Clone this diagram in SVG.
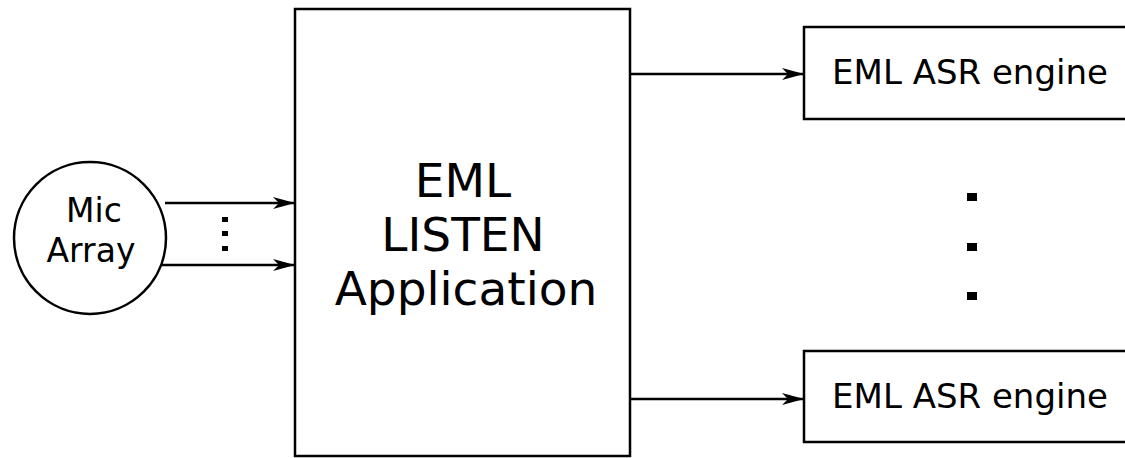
<svg xmlns="http://www.w3.org/2000/svg" width="1125" height="458" viewBox="0 0 1125 458">
<style>
.box{fill:#fff;stroke:#000;stroke-width:2.5}
.ln{fill:none;stroke:#000;stroke-width:2.5}
.t{font-family:"DejaVu Sans",sans-serif;fill:#000;text-anchor:middle}
</style>
<defs>
<marker id="ah" markerUnits="userSpaceOnUse" markerWidth="24" markerHeight="14" refX="22" refY="7" orient="auto">
<path d="M0,1 L22,7 L0,13 L6,7 Z" fill="#000"/>
</marker>
</defs>
<rect width="1125" height="458" fill="#fff"/>
<g id="mic">
<circle class="box" cx="90" cy="238" r="76"/>
<text class="t" x="94" y="222" font-size="33">Mic</text>
<text class="t" x="91" y="262" font-size="33">Array</text>
</g>
<g id="listen">
<rect class="box" x="295" y="9" width="335" height="447"/>
<text class="t" x="463" y="197" font-size="47">EML</text>
<text class="t" x="463" y="251" font-size="47">LISTEN</text>
<text class="t" x="466" y="305" font-size="47">Application</text>
</g>
<g id="asr1">
<rect class="box" x="804" y="27" width="330" height="92"/>
<text class="t" x="970" y="84" font-size="34">EML ASR engine</text>
</g>
<g id="asr2">
<rect class="box" x="804" y="351" width="330" height="91"/>
<text class="t" x="970" y="408" font-size="34">EML ASR engine</text>
</g>
<g id="connectors">
<line class="ln" x1="165" y1="203" x2="295" y2="203" marker-end="url(#ah)"/>
<line class="ln" x1="162" y1="265" x2="295" y2="265" marker-end="url(#ah)"/>
<line class="ln" x1="630" y1="74" x2="804" y2="74" marker-end="url(#ah)"/>
<line class="ln" x1="630" y1="399" x2="804" y2="399" marker-end="url(#ah)"/>
</g>
<g id="dots" fill="#000">
<rect x="222" y="217" width="6" height="5"/>
<rect x="222" y="231" width="6" height="5"/>
<rect x="222" y="246" width="6" height="5"/>
<rect x="967" y="193" width="10" height="8"/>
<rect x="967" y="243" width="10" height="8"/>
<rect x="967" y="292" width="10" height="8"/>
</g>
</svg>
